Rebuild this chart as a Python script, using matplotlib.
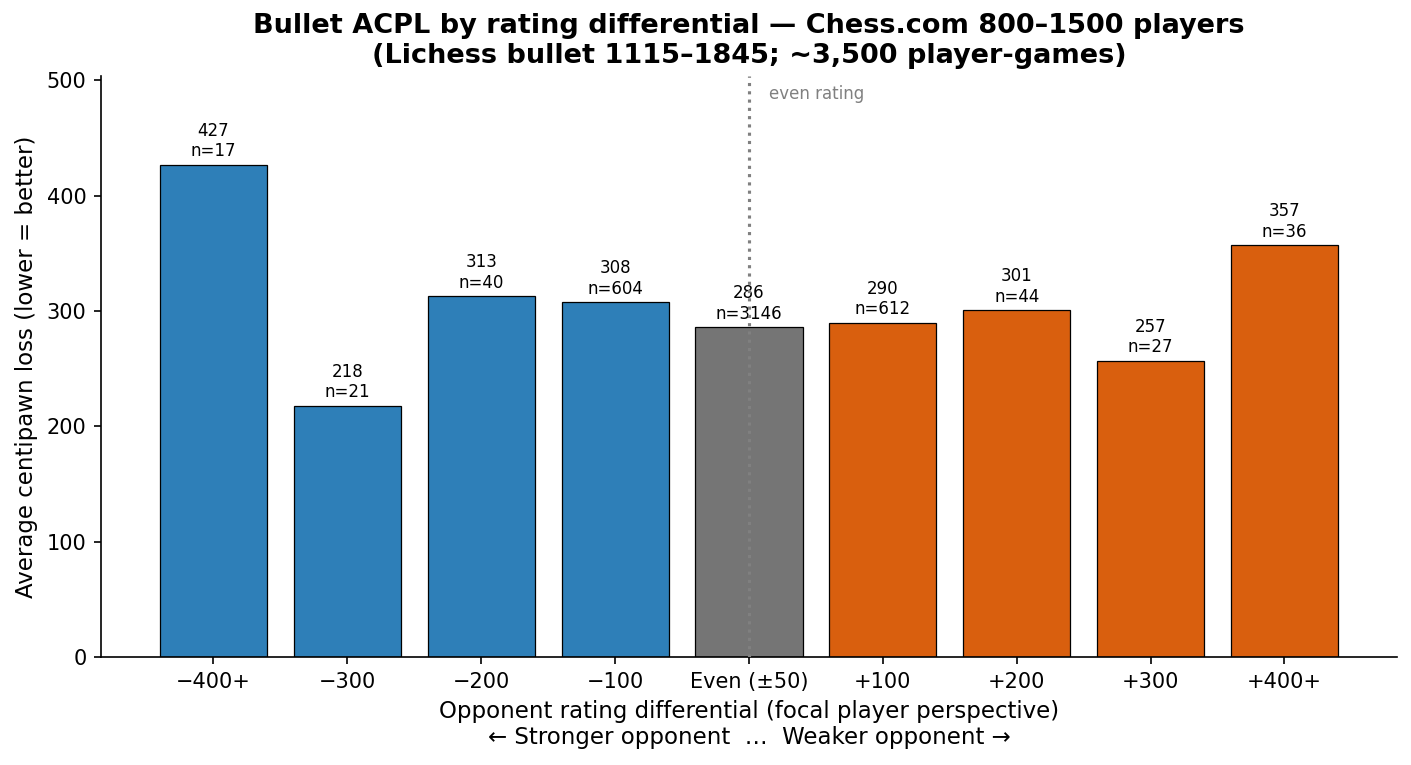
import matplotlib
matplotlib.use("Agg")
import matplotlib.pyplot as plt

# rating-differential buckets (focal player perspective)
buckets = ["\u2212400+", "\u2212300", "\u2212200", "\u2212100", "Even (\u00b150)",
           "+100", "+200", "+300", "+400+"]
acpl = [427, 218, 313, 308, 286, 290, 301, 257, 357]
n_games = [17, 21, 40, 604, 3146, 612, 44, 27, 36]

c_strong, c_even, c_weak = "#2e7fb8", "#757575", "#d95f0e"
colors = [c_strong] * 4 + [c_even] + [c_weak] * 4

fig, ax = plt.subplots(figsize=(9.407, 5.1), dpi=150)
x = list(range(len(buckets)))
bars = ax.bar(x, acpl, color=colors, edgecolor="black", linewidth=0.6, width=0.8)

for b, v, n in zip(bars, acpl, n_games):
    ax.annotate(f"{v}\nn={n}", (b.get_x() + b.get_width() / 2, b.get_height()),
                textcoords="offset points", xytext=(0, 2), ha="center", va="bottom",
                fontsize=8, linespacing=1.2)

ymax = max(acpl) * 1.18
ax.set_ylim(0, ymax)
ax.axvline(4, color="gray", linestyle=":", linewidth=1.5, zorder=3)
ax.text(4.15, ymax * 0.985, "even rating", color="gray", fontsize=8, ha="left", va="top")

ax.set_xticks(x)
ax.set_xticklabels(buckets, fontsize=10)
ax.tick_params(axis="y", labelsize=10)
ax.set_xlabel("Opponent rating differential (focal player perspective)\n"
              "\u2190 Stronger opponent  \u2026  Weaker opponent \u2192", fontsize=11)
ax.set_ylabel("Average centipawn loss (lower = better)", fontsize=11)
ax.set_title("Bullet ACPL by rating differential \u2014 Chess.com 800\u20131500 players\n"
             "(Lichess bullet 1115\u20131845; ~3,500 player-games)",
             fontsize=13, fontweight="bold")
ax.spines["top"].set_visible(False)
ax.spines["right"].set_visible(False)

fig.subplots_adjust(left=0.0716, right=0.990, bottom=0.1412, top=0.9007)
fig.savefig("out.png", dpi=150)
